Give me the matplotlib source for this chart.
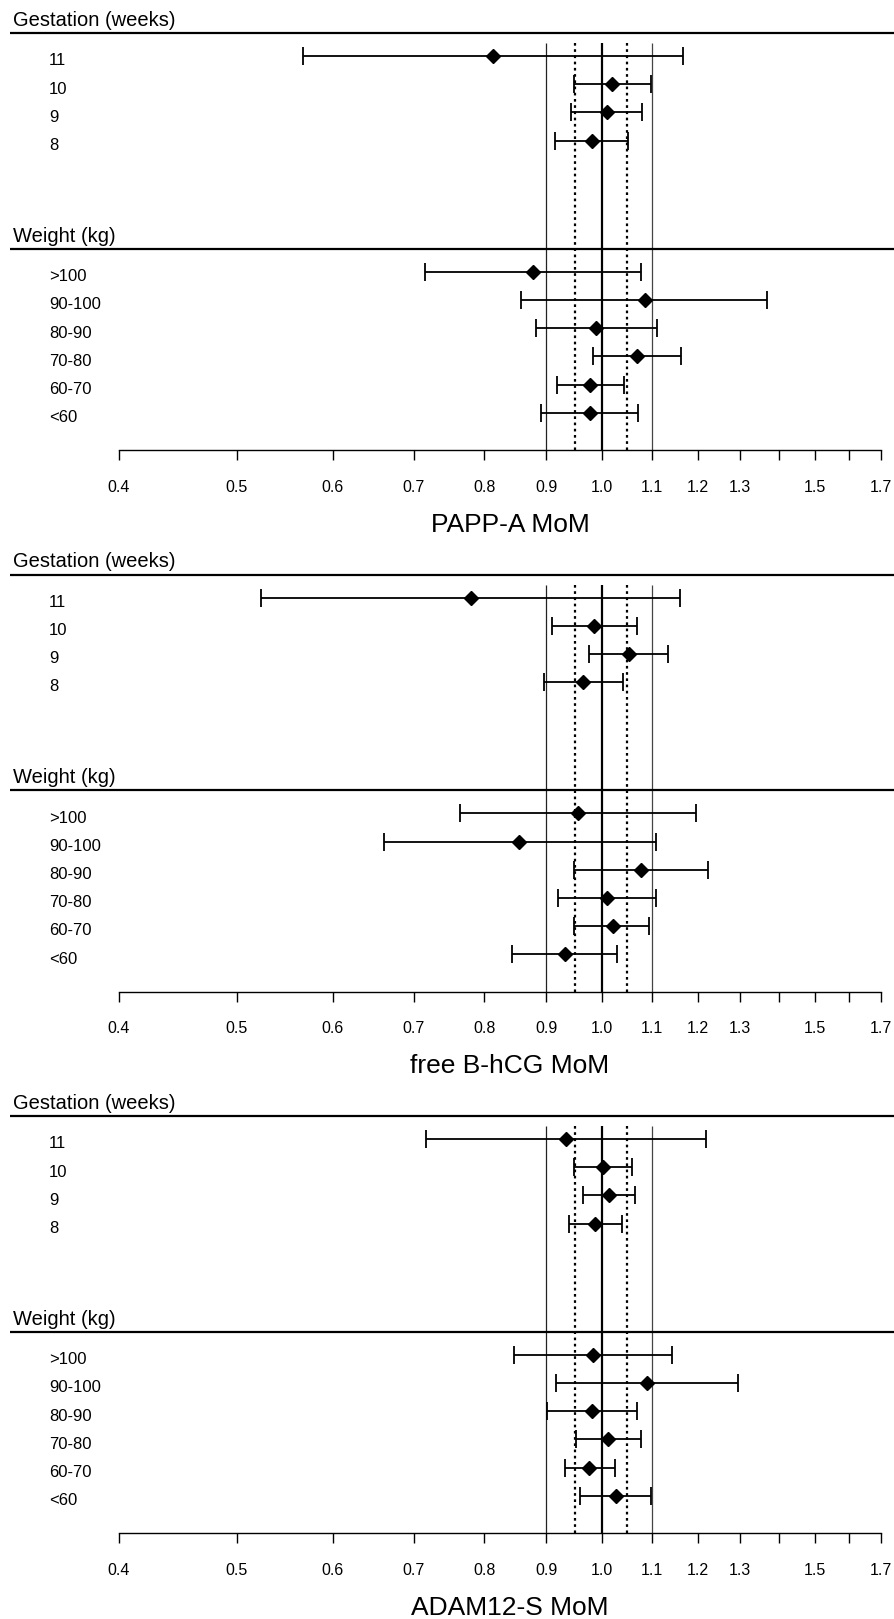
import numpy as np
import matplotlib
matplotlib.use('Agg')
import matplotlib.pyplot as plt
from matplotlib.ticker import FixedLocator, NullLocator

plt.rcParams['font.family'] = ['Liberation Sans', 'DejaVu Sans']

# categories
gest_labels = ['11', '10', '9', '8']
weight_labels = ['>100', '90-100', '80-90', '70-80', '60-70', '<60']
markers = ['PAPP-A MoM', 'free B-hCG MoM', 'ADAM12-S MoM']

# median MoM with 95% CI, per marker
papp_gest = [0.814, 1.019, 1.010, 0.981]
papp_gest_lo = [0.567, 0.948, 0.943, 0.916]
papp_gest_hi = [1.167, 1.098, 1.080, 1.051]
papp_wt = [0.878, 1.085, 0.989, 1.070, 0.979, 0.978]
papp_wt_lo = [0.715, 0.858, 0.882, 0.983, 0.918, 0.892]
papp_wt_hi = [1.077, 1.370, 1.111, 1.162, 1.044, 1.071]

hcg_gest = [0.780, 0.986, 1.053, 0.965]
hcg_gest_lo = [0.524, 0.910, 0.977, 0.896]
hcg_gest_hi = [1.161, 1.069, 1.135, 1.042]
hcg_wt = [0.956, 0.855, 1.077, 1.011, 1.021, 0.932]
hcg_wt_lo = [0.764, 0.662, 0.948, 0.920, 0.949, 0.843]
hcg_wt_hi = [1.197, 1.108, 1.224, 1.108, 1.095, 1.029]

adam_gest = [0.934, 1.003, 1.014, 0.987]
adam_gest_lo = [0.716, 0.949, 0.965, 0.939]
adam_gest_hi = [1.219, 1.059, 1.065, 1.039]
adam_wt = [0.984, 1.090, 0.982, 1.013, 0.977, 1.027]
adam_wt_lo = [0.846, 0.917, 0.901, 0.952, 0.933, 0.960]
adam_wt_hi = [1.143, 1.295, 1.069, 1.078, 1.026, 1.098]

tick_vals = [0.4, 0.5, 0.6, 0.7, 0.8, 0.9, 1.0, 1.1, 1.2, 1.3, 1.4, 1.5, 1.6, 1.7]
tick_text = ['0.4', '0.5', '0.6', '0.7', '0.8', '0.9', '1.0', '1.1', '1.2', '1.3', '', '1.5', '', '1.7']

panels = [
    (papp_gest, papp_gest_lo, papp_gest_hi, papp_wt, papp_wt_lo, papp_wt_hi),
    (hcg_gest, hcg_gest_lo, hcg_gest_hi, hcg_wt, hcg_wt_lo, hcg_wt_hi),
    (adam_gest, adam_gest_lo, adam_gest_hi, adam_wt, adam_wt_lo, adam_wt_hi),
]

W, H = 895, 1619
fig = plt.figure(figsize=(W / 100, H / 100), dpi=100)

s = 28.15          # px per row
gest_pos = np.arange(4) + 1.0
wt_pos = np.arange(6) + 8.67
gest_line, wt_line = 0.18, 7.84

for p, (g, glo, ghi, w, wlo, whi) in enumerate(panels):
    L = 33 + 541.5 * p
    top_px = L - 1.18 * s
    ax = fig.add_axes([10 / W, 1 - (top_px + 16 * s) / H, 885 / W, 16 * s / H])
    ax.set_xscale('log')
    ax.set_xlim(0.32523, 1.7452)
    ax.set_ylim(15, -1)

    # reference lines
    ax.vlines([0.9], 0.54, 15, color='#222222', lw=0.9)
    ax.vlines([1.1], 0.54, 15, color='#444444', lw=0.9)
    ax.vlines([1.0], 0.54, 15, color='black', lw=1.6)
    ax.vlines([0.95, 1.05], 0.54, 15, color='black', lw=1.6, linestyles=[(0, (1.2, 1.6))])

    # section headers
    ax.axhline(gest_line, color='black', lw=1.6)
    ax.axhline(wt_line, color='black', lw=1.6)
    tr = ax.get_yaxis_transform()
    ax.text(0.003, gest_line - 0.25, 'Gestation (weeks)', transform=tr, fontsize=14.5, va='baseline', ha='left')
    ax.text(0.003, wt_line - 0.25, 'Weight (kg)', transform=tr, fontsize=14.5, va='baseline', ha='left')

    for pos, lab in zip(gest_pos, gest_labels):
        ax.text(0.0441, pos + 0.33, lab, transform=tr, fontsize=12, va='baseline', ha='left')
    for pos, lab in zip(wt_pos, weight_labels):
        ax.text(0.0441, pos + 0.33, lab, transform=tr, fontsize=12, va='baseline', ha='left')

    g, glo, ghi = map(np.array, (g, glo, ghi))
    w, wlo, whi = map(np.array, (w, wlo, whi))
    for pos, m, lo, hi in ((gest_pos, g, glo, ghi), (wt_pos, w, wlo, whi)):
        ax.errorbar(m, pos, xerr=[m - lo, hi - m], fmt='D', color='black', ms=7.2,
                    ecolor='black', elinewidth=1.3, capsize=6.7, capthick=1.3)

    # axis
    for side in ('top', 'left', 'right'):
        ax.spines[side].set_visible(False)
    ax.spines['bottom'].set_bounds(0.4, 1.7)
    ax.spines['bottom'].set_linewidth(1.0)
    ax.xaxis.set_major_locator(FixedLocator(tick_vals))
    ax.xaxis.set_minor_locator(NullLocator())
    ax.set_xticklabels(tick_text)
    ax.tick_params(axis='x', length=7.2, width=1.0, labelsize=11.5, pad=14)

    ax.set_yticks([])

    ax.text(0.565, 17.65, markers[p], transform=tr, fontsize=19, ha='center', va='center')

fig.savefig('out.png', dpi=100)
